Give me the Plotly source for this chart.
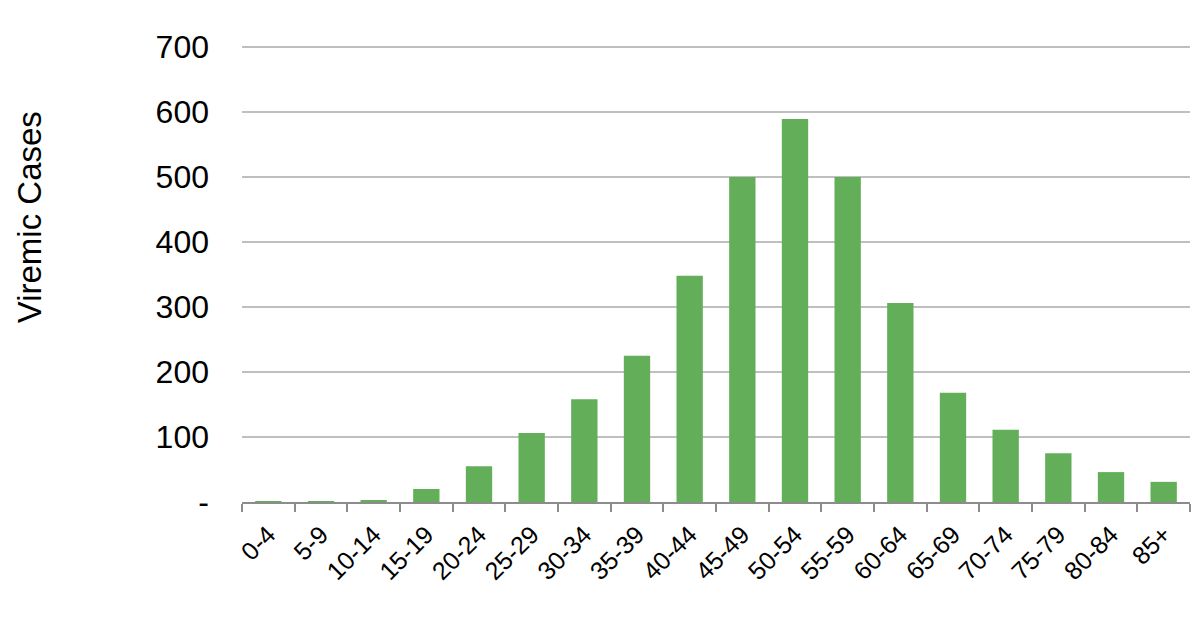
import plotly.graph_objects as go

age_groups = ["0-4", "5-9", "10-14", "15-19", "20-24", "25-29", "30-34", "35-39", "40-44",
              "45-49", "50-54", "55-59", "60-64", "65-69", "70-74", "75-79", "80-84", "85+"]
viremic_cases = [1, 1, 2, 20, 55, 106, 158, 225, 348, 500, 589, 500, 306, 168, 111, 75, 46, 31]

y_tick_vals = [0, 100, 200, 300, 400, 500, 600, 700]
y_tick_text = ["-", "100", "200", "300", "400", "500", "600", "700"]
y_title = "Viremic Cases"

fig = go.Figure()
fig.add_trace(go.Bar(
    x=age_groups, y=viremic_cases,
    marker=dict(color="#62ae59", line=dict(width=0)),
    width=0.5,
))

fig.update_layout(
    width=1192, height=609,
    margin=dict(l=234, r=10, t=37, b=115, autoexpand=False),
    paper_bgcolor="white", plot_bgcolor="white",
    font=dict(family="Liberation Sans, Arial, sans-serif", color="#000000"),
    showlegend=False,
    bargap=0.5,
)
fig.update_xaxes(
    type="category",
    tickangle=-45,
    tickfont=dict(size=25),
    showline=True, linecolor="#8c8c8c", linewidth=2,
    ticks="outside", tickson="boundaries", ticklen=8, tickcolor="#8c8c8c", tickwidth=2,
    ticklabelstandoff=6,
    showgrid=False,
)
fig.update_yaxes(
    range=[0, 703],
    tickvals=y_tick_vals, ticktext=y_tick_text,
    tickfont=dict(size=32),
    showgrid=True, gridcolor="#bfbfbf", gridwidth=2,
    zeroline=False, showline=False,
    ticklabelstandoff=32,
)
fig.add_annotation(
    text=y_title, textangle=-90,
    xref="paper", yref="paper", x=-0.2247, y=0.623,
    xanchor="center", yanchor="middle",
    showarrow=False, font=dict(size=33, color="#000000"),
)

fig.write_html("out.html")
